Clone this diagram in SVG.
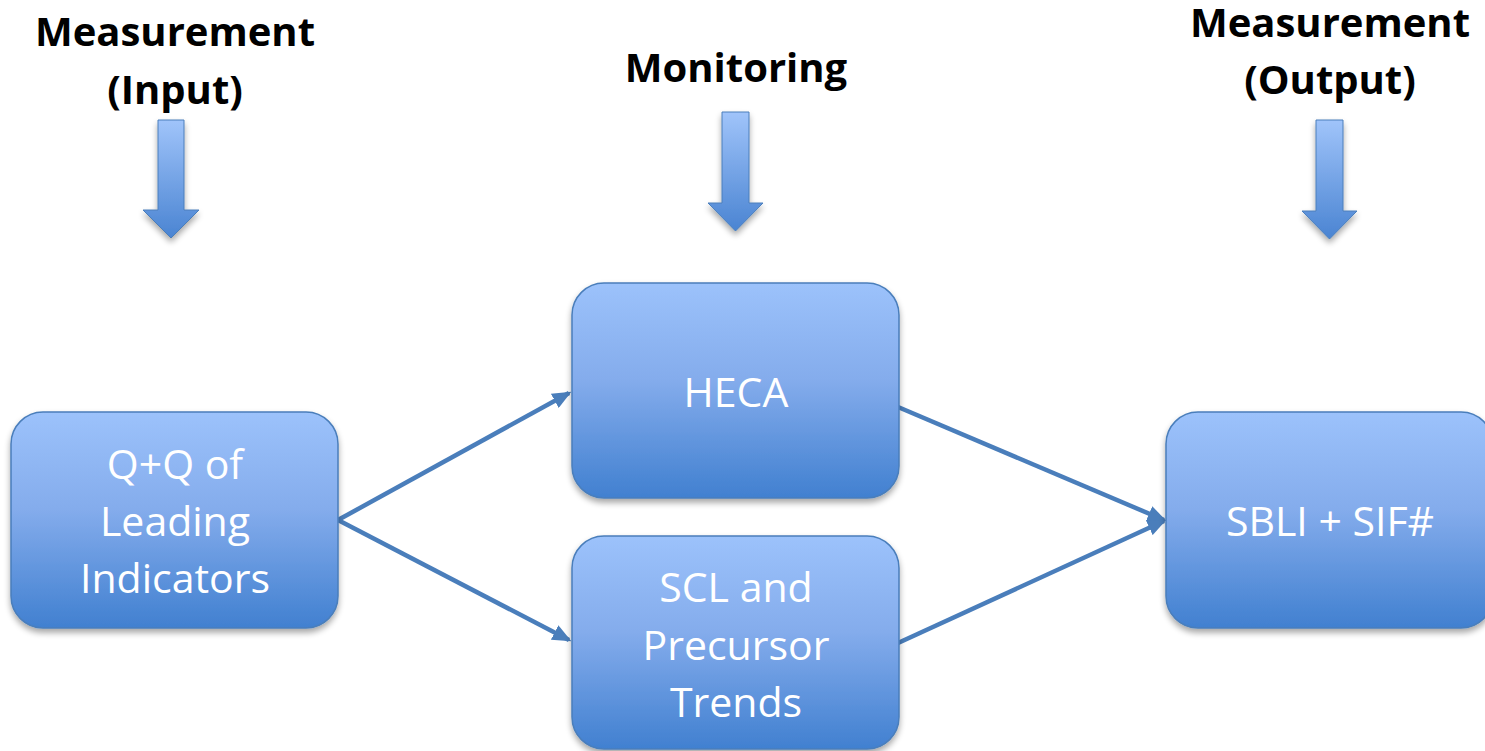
<svg xmlns="http://www.w3.org/2000/svg" width="1485" height="751" viewBox="0 0 1485 751">
<defs>
<linearGradient id="boxg" x1="0" y1="0" x2="0" y2="1">
<stop offset="0" stop-color="#9cc2fb"/>
<stop offset="0.45" stop-color="#84acec"/>
<stop offset="1" stop-color="#4180d0"/>
</linearGradient>
<linearGradient id="arrg" x1="0" y1="0" x2="0" y2="1">
<stop offset="0" stop-color="#a0c4fa"/>
<stop offset="1" stop-color="#4a84d2"/>
</linearGradient>
<filter id="sh" x="-10%" y="-10%" width="120%" height="125%">
<feGaussianBlur in="SourceAlpha" stdDeviation="3"/>
<feOffset dx="0" dy="4" result="b"/>
<feComponentTransfer><feFuncA type="linear" slope="0.35"/></feComponentTransfer>
<feMerge><feMergeNode/><feMergeNode in="SourceGraphic"/></feMerge>
</filter>
<marker id="ah" markerWidth="4.2" markerHeight="3.6" refX="3.6" refY="1.8" orient="auto" markerUnits="strokeWidth">
<path d="M0,0 L4.2,1.8 L0,3.6 Z" fill="#4a7ebb"/>
</marker>
</defs>
<style>
.box{fill:url(#boxg);stroke:#4a7ebb;stroke-width:1.5;filter:url(#sh)}
.lbl{font-family:"Open Sans","Liberation Sans",sans-serif;font-size:41px;fill:#ffffff;text-anchor:middle}
.hdr{font-family:"Open Sans","Liberation Sans",sans-serif;font-weight:bold;font-size:40px;fill:#000000;text-anchor:middle}
.barr{fill:url(#arrg);stroke:#4a7ebb;stroke-width:1;filter:url(#sh)}
.conn{stroke:#4a7ebb;stroke-width:4.5;fill:none;marker-end:url(#ah)}
</style>
<rect width="1485" height="751" fill="#ffffff"/>

<g id="hdr-input">
<text class="hdr" x="175" y="46">Measurement</text>
<text class="hdr" x="175" y="104">(Input)</text>
<path class="barr" d="M158,120 H184 V210 H199 L171,238 L143,210 H158 Z"/>
</g>
<g id="hdr-monitoring">
<text class="hdr" x="736" y="82">Monitoring</text>
<path class="barr" d="M722,112 H749 V203 H763 L735.5,231 L708,203 H722 Z"/>
</g>
<g id="hdr-output">
<text class="hdr" x="1330" y="37">Measurement</text>
<text class="hdr" x="1330" y="94">(Output)</text>
<path class="barr" d="M1316,120 H1343 V211 H1357 L1329.5,239 L1302,211 H1316 Z"/>
</g>

<g id="connectors">
<line class="conn" x1="338" y1="520" x2="569" y2="393"/>
<line class="conn" x1="338" y1="520" x2="569" y2="640"/>
<line class="conn" x1="898" y1="407" x2="1164" y2="520"/>
<line class="conn" x1="898" y1="643" x2="1164" y2="521"/>
</g>

<g id="node-qq">
<rect class="box" x="11" y="412" width="327" height="216" rx="32"/>
<text class="lbl" x="175" y="479">Q+Q of</text>
<text class="lbl" x="175" y="536">Leading</text>
<text class="lbl" x="175" y="593">Indicators</text>
</g>
<g id="node-heca">
<rect class="box" x="572" y="283" width="327" height="215" rx="32"/>
<text class="lbl" x="736" y="407">HECA</text>
</g>
<g id="node-scl">
<rect class="box" x="572" y="536" width="327" height="213" rx="32"/>
<text class="lbl" x="736" y="602">SCL and</text>
<text class="lbl" x="736" y="660">Precursor</text>
<text class="lbl" x="736" y="717">Trends</text>
</g>
<g id="node-sbli">
<rect class="box" x="1166" y="412" width="327" height="216" rx="32"/>
<text class="lbl" x="1330" y="536">SBLI + SIF#</text>
</g>
</svg>
